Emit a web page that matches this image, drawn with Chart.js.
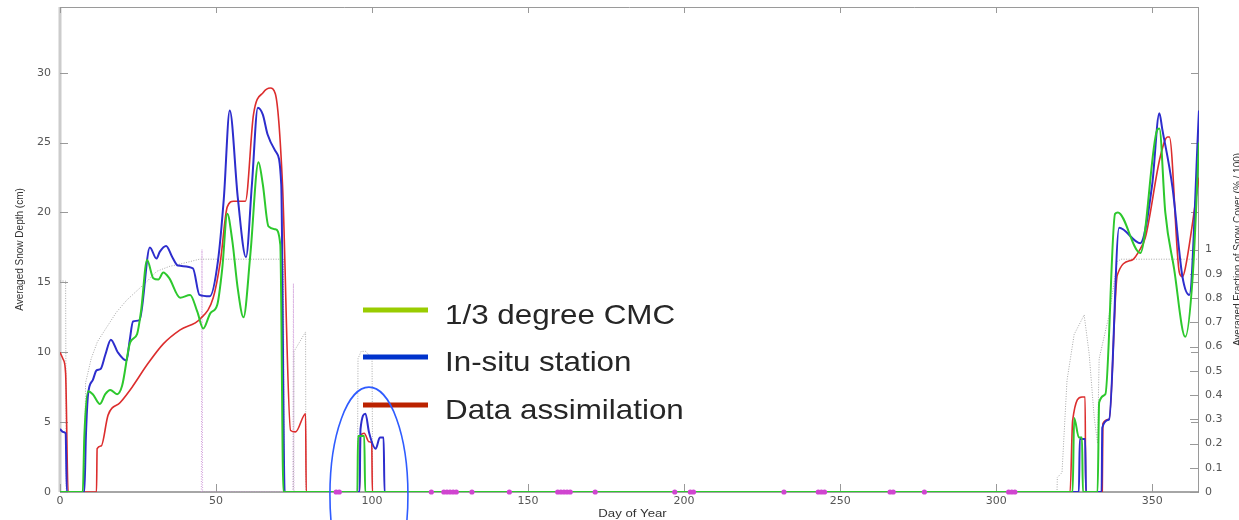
<!DOCTYPE html>
<html><head><meta charset="utf-8">
<script src="https://cdn.jsdelivr.net/npm/chart.js@4.4.1/dist/chart.umd.min.js"></script>
<style>html,body{margin:0;padding:0;background:#fff}#wrap{width:1239px;height:520px;position:relative}</style>
</head><body><div id="wrap"><canvas id="c"></canvas></div>
<script>
// ---- data (day of year, value) ----
const seriesLabels = ['1/3 degree CMC', 'In-situ station', 'Data assimilation'];

const cmcDays  = [0, 7.3, 7.8, 9, 10.5, 12.8, 14.5, 16.1, 18.3, 19.9, 22.5, 24.7, 26, 27.9, 29.9, 31.5, 33.1, 35, 38.5, 41.7, 44, 45.9, 48.2, 50.4, 52, 53.6, 55.2, 57, 58.8, 61, 63.6, 65, 66.8, 69, 70.6, 71.6, 95.3, 95.5, 97.5, 97.8, 324.5, 325, 326.5, 327.5, 327.8, 332.5, 333, 335, 338.1, 339, 346.2, 351.6, 352.3, 354.2, 357, 360.6, 363, 365];
const cmcDepth = [0, 0, 4, 7.2, 7.0, 6.3, 7.0, 7.3, 7.0, 7.6, 10.7, 11.3, 13, 16.6, 15.3, 15.2, 15.7, 15.3, 13.9, 14.1, 12.9, 11.7, 12.8, 13.4, 16, 19.9, 18.0, 14.5, 12.5, 17.0, 23.6, 22, 19.0, 18.8, 17.7, 0, 0, 4, 4, 0, 0, 5.3, 3.9, 3.9, 0, 0, 6.4, 7.0, 19.9, 20, 17.1, 25.9, 26, 20, 16, 11.1, 15.5, 25];

const insituDays  = [0, 1, 1.8, 2.2, 7.8, 8.3, 9, 10.5, 11.7, 13, 14.5, 16.3, 18.5, 21.3, 22.3, 23.4, 25.5, 28.8, 30.9, 32, 34, 36, 37.8, 42.6, 44.7, 48, 50.6, 52.5, 54.4, 57, 59.6, 61.5, 63.4, 65, 66.5, 69.3, 70.9, 72, 96, 96.3, 97.9, 99, 101.2, 102.5, 103.7, 104, 326.5, 326.8, 328.5, 328.8, 333.8, 334, 336.2, 339.4, 346.2, 350, 352.3, 353.2, 356.5, 359.7, 361.9, 365];
const insituDepth = [4.5, 4.3, 4.2, 0, 0, 4, 7, 8.0, 8.7, 8.8, 9.8, 10.9, 10.0, 9.4, 10.8, 12.2, 12.3, 17.5, 16.7, 17.2, 17.6, 16.8, 16.2, 16.0, 14.1, 14.0, 16.5, 21, 27.3, 21, 16.8, 22, 27.5, 27, 25.6, 24.3, 22, 0, 0, 4.5, 5.6, 4.3, 3.1, 3.9, 3.9, 0, 0, 3.8, 3.8, 0, 0, 4.6, 5.2, 18.9, 17.8, 22, 27.1, 26, 21.8, 15.4, 14.1, 27.3];

const daDays  = [0, 1, 1.8, 2.6, 11.7, 11.9, 13.2, 15.4, 19.3, 23.1, 27.9, 33.1, 38.5, 45, 49.1, 51.4, 53.6, 55.6, 59.4, 62, 65.2, 67.4, 69, 71.3, 73.9, 75.5, 78.7, 78.9, 96, 96.3, 97.5, 99, 99.9, 100.1, 323.7, 324.5, 327.5, 328.5, 328.7, 334, 334.2, 336.2, 338.8, 343.6, 346.2, 347.8, 352.6, 354.9, 355.5, 358.7, 359.7, 360.6, 365];
const daDepth = [10, 9.5, 8.5, 0, 0, 3.1, 3.3, 5.5, 6.4, 7.5, 9.1, 10.6, 11.6, 12.4, 13.9, 16.5, 20.4, 20.8, 20.8, 27, 28.6, 28.9, 28.5, 22, 4.4, 4.3, 5.6, 0, 0, 4.0, 4.2, 3.6, 3.5, 0, 0, 5.1, 6.8, 6.8, 0, 0, 4.9, 5.2, 15.5, 16.6, 17.4, 18.2, 24, 25.4, 25.4, 15.7, 15.4, 16, 22.5];

// averaged fraction of snow cover (right axis)
const coverDays = [0, 1.8, 2, 7.8, 8.2, 10, 12, 15, 18, 21.3, 25.5, 28, 31, 35, 38.5, 44.7, 50, 71.6, 71.8, 74.8, 75, 78.7, 78.8, 95.3, 95.5, 96.5, 98, 100, 100.2, 319.5, 319.6, 321.1, 322.7, 325, 328.2, 329.8, 331.4, 332.5, 333, 336.2, 338.8, 340, 365];
const coverFrac = [0.87, 0.87, 0, 0, 0.45, 0.55, 0.62, 0.68, 0.74, 0.79, 0.84, 0.87, 0.91, 0.93, 0.94, 0.96, 0.96, 0.96, 0, 0, 0.58, 0.66, 0, 0, 0.55, 0.58, 0.58, 0.55, 0, 0, 0.06, 0.08, 0.46, 0.65, 0.73, 0.57, 0.31, 0.2, 0.55, 0.73, 0.95, 0.96, 0.96];

const spikeDays = [45.3, 45.5, 45.7, 74.6, 74.8, 75];
const spikeFrac = [0, 1.0, 0, 0, 0.86, 0];

const dotDays = [88.5, 89.5, 119, 123, 124, 125, 126, 127, 132, 144, 159.5, 160.5, 161.5, 162.5, 163.5, 171.5, 197, 202, 203, 232, 243, 244, 245, 266, 267, 277, 304, 305, 306];

// ticks
const xTickValues = [0, 50, 100, 150, 200, 250, 300, 350];
const xTickLabels = ['0', '50', '100', '150', '200', '250', '300', '350'];
const yTickValues = [0, 5, 10, 15, 20, 25, 30];
const yTickLabels = ['0', '5', '10', '15', '20', '25', '30'];
const fracTickValues = [0, 0.1, 0.2, 0.3, 0.4, 0.5, 0.6, 0.7, 0.8, 0.9, 1];
const fracTickLabels = ['0', '0.1', '0.2', '0.3', '0.4', '0.5', '0.6', '0.7', '0.8', '0.9', '1'];

const zip = (xs, ys) => xs.map((x, i) => ({x: x, y: ys[i]}));

const legendColors = ['#99cc00', '#0033cc', '#bb2200'];

const framePlugin = {
  id: 'frame',
  beforeDatasetsDraw(chart) {
    const {ctx, chartArea: a, scales: {x, y, y2}} = chart;
    ctx.save();
    ctx.strokeStyle = '#cccccc'; ctx.lineWidth = 3;
    ctx.beginPath(); ctx.moveTo(a.left, a.top); ctx.lineTo(a.left, a.bottom); ctx.stroke();
    ctx.strokeStyle = '#9a9a9a'; ctx.lineWidth = 1;
    ctx.beginPath();
    ctx.moveTo(a.left, a.top + 0.5); ctx.lineTo(a.right, a.top + 0.5);
    ctx.moveTo(a.right - 0.5, a.top); ctx.lineTo(a.right - 0.5, a.bottom);
    ctx.stroke();
    ctx.strokeStyle = '#888'; ctx.lineWidth = 1.5;
    ctx.beginPath(); ctx.moveTo(a.left, a.bottom); ctx.lineTo(a.right, a.bottom); ctx.stroke();
    ctx.strokeStyle = '#999'; ctx.lineWidth = 1;
    ctx.beginPath();
    yTickValues.forEach(v => {
      const p = Math.round(y.getPixelForValue(v)) + 0.5;
      ctx.moveTo(a.left, p); ctx.lineTo(a.left + 8, p);
      ctx.moveTo(a.right - 8, p); ctx.lineTo(a.right, p);
    });
    fracTickValues.forEach(v => {
      const p = Math.round(y2.getPixelForValue(v)) + 0.5;
      ctx.moveTo(a.right - 9, p); ctx.lineTo(a.right, p);
    });
    xTickValues.forEach(v => {
      const p = Math.round(x.getPixelForValue(v)) + 0.5;
      ctx.moveTo(p, a.bottom - 8); ctx.lineTo(p, a.bottom);
      ctx.moveTo(p, a.top); ctx.lineTo(p, a.top + 6);
    });
    ctx.stroke();
    ctx.restore();
  },
  afterDraw(chart) {
    const {ctx, chartArea: a, scales: {x, y}} = chart;
    ctx.save();
    // axis titles
    ctx.fillStyle = '#333';
    ctx.font = '10px "Liberation Sans", Arial, sans-serif';
    ctx.textAlign = 'center'; ctx.textBaseline = 'middle';
    ctx.save(); ctx.translate(20, (a.top + a.bottom) / 2); ctx.rotate(-Math.PI / 2);
    ctx.fillText('Averaged Snow Depth (cm)', 0, 0); ctx.restore();
    ctx.save(); ctx.translate(1241, (a.top + a.bottom) / 2); ctx.rotate(-Math.PI / 2);
    ctx.textBaseline = 'alphabetic';
    ctx.fillText('Averaged Fraction of Snow Cover (% / 100)', 0, 0); ctx.restore();
    ctx.save(); ctx.translate((a.left + a.right) / 2 + 3, 514); ctx.scale(1.2, 1);
    ctx.font = '11px "Liberation Sans", Arial, sans-serif';
    ctx.fillText('Day of Year', 0, 0); ctx.restore();
    // legend
    const rows = [310, 357, 405];
    rows.forEach((ry, i) => {
      ctx.strokeStyle = legendColors[i]; ctx.lineWidth = 5; ctx.lineCap = 'butt';
      ctx.beginPath(); ctx.moveTo(363, ry); ctx.lineTo(428, ry); ctx.stroke();
      ctx.save(); ctx.translate(445, ry + 14); ctx.scale(1.12, 1);
      ctx.fillStyle = '#262626'; ctx.font = '28px "Liberation Sans", Arial, sans-serif';
      ctx.textAlign = 'left'; ctx.textBaseline = 'alphabetic';
      ctx.fillText(seriesLabels[i], 0, 0); ctx.restore();
    });
    // highlight ellipse
    const cx = x.getPixelForValue(99), cy = y.getPixelForValue(-0.2);
    const rx = x.getPixelForValue(111.5) - cx, ryy = cy - y.getPixelForValue(7.5);
    ctx.strokeStyle = '#2f5cff'; ctx.lineWidth = 1.6;
    ctx.beginPath(); ctx.ellipse(cx, cy, rx, ryy, 0, 0, Math.PI * 2); ctx.stroke();
    ctx.restore();
  }
};

const lineDs = (label, data, color, width) => ({
  label: label, data: data, borderColor: color, borderWidth: width, pointRadius: 0,
  fill: false, cubicInterpolationMode: 'monotone', yAxisID: 'y'
});

const noPad = s => { s.paddingTop = 0; s.paddingBottom = 0; s.paddingLeft = 0; s.paddingRight = 0; };

new Chart(document.getElementById('c'), {
  type: 'line',
  data: {
    datasets: [
      { label: 'dots', data: dotDays.map(d => ({x: d, y: 0})), showLine: false, pointRadius: 2.6,
        pointBackgroundColor: '#d045d0', pointBorderWidth: 0, yAxisID: 'y', clip: false },
      lineDs(seriesLabels[0], zip(cmcDays, cmcDepth), 'rgb(45,200,45)', 2),
      lineDs(seriesLabels[1], zip(insituDays, insituDepth), 'rgb(45,45,205)', 2),
      lineDs(seriesLabels[2], zip(daDays, daDepth), 'rgb(220,45,45)', 1.6),
      { label: 'cover', data: zip(coverDays, coverFrac), borderColor: '#a8a8a8', borderWidth: 1,
        borderDash: [1, 1.5], pointRadius: 0, yAxisID: 'y2', tension: 0 },
      { label: 'spikes', data: zip(spikeDays, spikeFrac), borderColor: 'rgba(205,150,215,0.9)', borderWidth: 1,
        borderDash: [1, 1.5], pointRadius: 0, yAxisID: 'y2', tension: 0 }
    ]
  },
  options: {
    responsive: true, maintainAspectRatio: false, animation: false,
    layout: { padding: { top: 7, left: 0, right: 0, bottom: 0 } },
    plugins: { legend: { display: false }, tooltip: { enabled: false } },
    scales: {
      x: {
        type: 'linear', position: 'bottom', min: 0, max: 365,
        afterFit: s => { s.height = 28; noPad(s); },
        afterBuildTicks: s => { s.ticks = xTickValues.map(v => ({value: v})); },
        grid: { display: false, drawTicks: false }, border: { display: false },
        ticks: { padding: 3, color: '#555', font: { family: 'DejaVu Sans', size: 11 },
          callback: (v, i) => xTickLabels[i] }
      },
      y: {
        type: 'linear', position: 'left', min: 0, max: 34.7,
        afterFit: s => { s.width = 60; noPad(s); },
        afterBuildTicks: s => { s.ticks = yTickValues.map(v => ({value: v})); },
        grid: { display: false, drawTicks: false }, border: { display: false },
        ticks: { padding: 9, color: '#555', font: { family: 'DejaVu Sans', size: 11 },
          callback: (v, i) => yTickLabels[i] }
      },
      y2: {
        type: 'linear', position: 'right', min: 0, max: 2,
        afterFit: s => { s.width = 40; noPad(s); },
        afterBuildTicks: s => { s.ticks = fracTickValues.map(v => ({value: v})); },
        grid: { display: false, drawTicks: false }, border: { display: false },
        ticks: { padding: 6, color: '#555', font: { family: 'DejaVu Sans', size: 11 },
          callback: (v, i) => fracTickLabels[i] }
      }
    }
  },
  plugins: [framePlugin]
});
</script></body></html>
